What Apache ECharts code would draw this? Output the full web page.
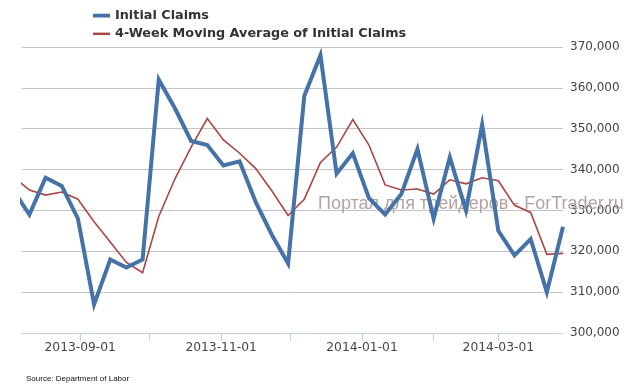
<!DOCTYPE html>
<html>
<head>
<meta charset="utf-8">
<script src="https://cdn.jsdelivr.net/npm/echarts@6/dist/echarts.min.js"></script>
<style>
html,body{margin:0;padding:0;background:#fff;}
#chart{width:634px;height:390px;}
</style>
</head>
<body>
<div id="chart"></div>
<script>
// Week-ending dates (Saturdays)
const weekDates = [
  '2013-08-03','2013-08-10','2013-08-17','2013-08-24','2013-08-31',
  '2013-09-07','2013-09-14','2013-09-21','2013-09-28',
  '2013-10-05','2013-10-12','2013-10-19','2013-10-26',
  '2013-11-02','2013-11-09','2013-11-16','2013-11-23','2013-11-30',
  '2013-12-07','2013-12-14','2013-12-21','2013-12-28',
  '2014-01-04','2014-01-11','2014-01-18','2014-01-25',
  '2014-02-01','2014-02-08','2014-02-15','2014-02-22',
  '2014-03-01','2014-03-08','2014-03-15','2014-03-22','2014-03-29'
];
const initialClaims = [
  335000,329000,338000,336000,328000,
  307000,318000,316000,318000,
  362000,355000,347000,346000,
  341000,342000,332000,324000,317000,
  358000,368000,339000,344000,
  333000,329000,334000,345000,
  328000,343000,330000,351000,
  325000,319000,323000,310000,326000
];
const movingAverage = [
  338250,335000,333750,334500,332750,
  327250,322250,317250,314750,
  328500,337750,345500,352500,
  347250,344000,340250,334750,328750,
  332750,341750,345500,352250,
  346000,336250,335000,335250,
  334000,337500,336500,338000,
  337250,331250,329500,319250,319500
];
const seriesNames = ['Initial Claims', '4-Week Moving Average of Initial Claims'];
const monthTicks = ['2013-09-01','2013-10-01','2013-11-01','2013-12-01','2014-01-01','2014-02-01','2014-03-01'];
const tickLabels = ['2013-09-01','2013-11-01','2014-01-01','2014-03-01'];
const yTicks = [300000,310000,320000,330000,340000,350000,360000,370000];
const xRange = ['2013-08-06T19:12:00','2014-03-29T00:00:00'];
const sourceText = 'Source: Department of Labor';
const watermarkText = 'Портал для трейдеров - ForTrader.ru';

function toTime(s){ return new Date(s.length === 10 ? s + 'T00:00:00' : s).getTime(); }
function pad(n){ return (n < 10 ? '0' : '') + n; }
function fmtDate(v){ const d = new Date(v); return d.getFullYear() + '-' + pad(d.getMonth()+1) + '-' + pad(d.getDate()); }
function fmtNum(v){ return String(v).replace(/\B(?=(\d{3})+(?!\d))/g, ','); }

const iconThick = 'path://M0,0 M0,5 L18,5 L18,9 L0,9 Z M18,14';
const iconThin = 'path://M0,0 M0,5.7 L18,5.7 L18,8.3 L0,8.3 Z M18,14';

const chart = echarts.init(document.getElementById('chart'), null, {renderer:'canvas'});
const option = {
  animation: false,
  backgroundColor: '#ffffff',
  grid: { left: 22, right: 71, top: 47, bottom: 57, containLabel: false },
  legend: {
    orient: 'vertical',
    left: 93,
    top: 9,
    padding: 0,
    itemWidth: 17,
    itemHeight: 14,
    itemGap: 5,
    data: [
      { name: seriesNames[0], icon: iconThick },
      { name: seriesNames[1], icon: iconThin }
    ],
    textStyle: { fontFamily: 'DejaVu Sans', fontWeight: 'bold', fontSize: 12.8, color: '#333333' }
  },
  xAxis: {
    type: 'value',
    min: toTime(xRange[0]),
    max: toTime(xRange[1]),
    axisLine: { show: true, lineStyle: { color: '#c3d1e0', width: 1 } },
    axisTick: { show: true, length: 8, lineStyle: { color: '#c3d1e0' }, customValues: monthTicks.map(toTime) },
    axisLabel: {
      customValues: tickLabels.map(toTime),
      formatter: function(v){ return fmtDate(v); },
      fontFamily: 'DejaVu Sans', fontSize: 12.3, color: '#444444', margin: 9
    },
    splitLine: { show: false }
  },
  yAxis: {
    type: 'value',
    position: 'right',
    min: yTicks[0],
    max: yTicks[yTicks.length-1],
    interval: 10000,
    axisLine: { show: false },
    axisTick: { show: false },
    axisLabel: { formatter: function(v){ return fmtNum(v); }, fontFamily: 'DejaVu Sans', fontSize: 12, color: '#444444', margin: 7 },
    splitLine: { show: true, showMinLine: false, lineStyle: { color: '#c4c4c4', width: 1 } }
  },
  series: [
    {
      name: seriesNames[0],
      type: 'line',
      data: weekDates.map((d,i) => [toTime(d), initialClaims[i]]),
      showSymbol: false,
      symbol: 'none',
      z: 4,
      color: '#4572a7',
      lineStyle: { color: '#4572a7', width: 4, join: 'miter', miterLimit: 10 }
    },
    {
      name: seriesNames[1],
      type: 'line',
      data: weekDates.map((d,i) => [toTime(d), movingAverage[i]]),
      showSymbol: false,
      symbol: 'none',
      z: 3,
      color: '#aa4643',
      lineStyle: { color: '#aa4643', width: 1.6, join: 'miter' }
    }
  ],
  graphic: [
    {
      type: 'text', z: 1, silent: true,
      x: 318, y: 204.5,
      style: { text: watermarkText, font: '18px "Liberation Sans"', fill: '#b3a3a3', verticalAlign: 'middle', align: 'left' }
    },
    {
      type: 'text', z: 10, silent: true,
      x: 26, y: 379,
      style: { text: sourceText, font: '8px "Liberation Sans"', fill: '#111111', verticalAlign: 'middle', align: 'left' }
    }
  ]
};
chart.setOption(option);
</script>
</body>
</html>
